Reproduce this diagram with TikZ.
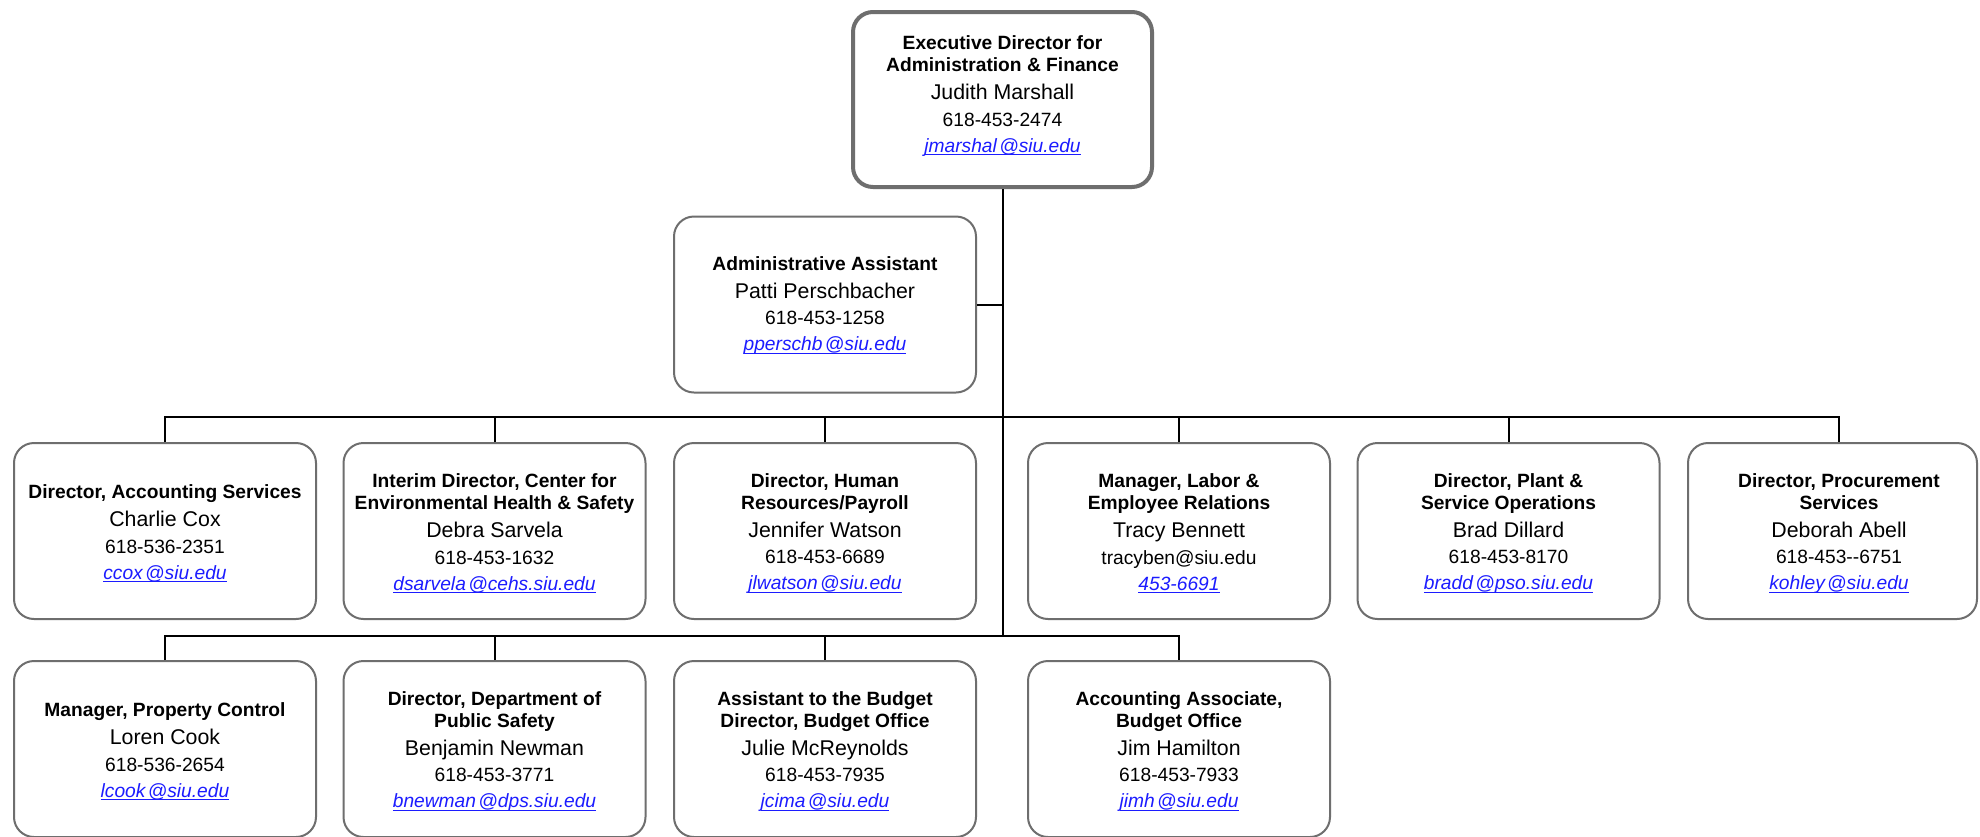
\documentclass[tikz,border=0pt]{standalone}
\usepackage{fontspec}
\setmainfont{Liberation Sans}
\usetikzlibrary{calc}
\definecolor{boxgray}{HTML}{6E6E6E}
\definecolor{linkblue}{HTML}{1C1CFF}
\newcommand\mylink[1]{{\itshape\setbox0\hbox{\color{linkblue}#1}\rlap{\color{linkblue}\rule[-2.2pt]{\wd0}{0.75pt}}\box0}}
\newcommand\myemail[2]{\mylink{#1\kern1.8pt@#2}}
\newcommand\namefs{\fontsize{16}{19}\selectfont}
\newcommand\card[5][14.25pt]{\rule{0pt}{#1}#2\\[4.7pt]{\namefs #3}\\[3.6pt]#4\\[3.1pt]#5}
\newcommand\topcardtext[4]{#1\\[4.7pt]{\namefs #2}\\[3.6pt]#3\\[3.1pt]#4\rule[-8.25pt]{0pt}{0pt}}
\begin{document}
\begin{tikzpicture}[x=0.75pt,y=-0.75pt,
  card/.style={draw=boxgray, line width=1.5pt, rounded corners=15pt, fill=white,
    minimum width=226.5pt, minimum height=132pt, align=center, inner sep=2pt,
    font=\fontsize{14.4}{16.3}\selectfont},
  topcard/.style={card, line width=3pt, minimum width=224.25pt, minimum height=131.25pt},
  plaintext/.style={card, draw=none, fill=none, minimum width=0pt, minimum height=0pt},
  conn/.style={draw=black, line width=1.5pt}]
\clip (0,0) rectangle (1980,836);
\fill[white] (0,0) rectangle (1980,836);

% top
\node[topcard] (top) at (1002.5,99.5) {\topcardtext{\textbf{Executive Director for}\\\textbf{Administration \& Finance}}{Judith Marshall}{618-453-2474}{\myemail{jmarshal}{siu.edu}}};
\node[card] (admin) at (825,304.5) {\card[12pt]{\textbf{Administrative Assistant}}{Patti Perschbacher}{618-453-1258}{\myemail{pperschb}{siu.edu}}};

% row 1
\node[card] (r1a) at (165,531) {\card{\textbf{Director, Accounting Services}}{Charlie Cox}{618-536-2351}{\myemail{ccox}{siu.edu}}};
\node[card] (r1b) at (494.5,531) {\card{\textbf{Interim Director, Center for}\\\textbf{Environmental Health \& Safety}}{Debra Sarvela}{618-453-1632}{\myemail{dsarvela}{cehs.siu.edu}}};
\node[card] (r1c) at (825,531) {\card{\textbf{Director, Human}\\\textbf{Resources/Payroll}}{Jennifer Watson}{618-453-6689}{\myemail{jlwatson}{siu.edu}}};
\node[card] (r1d) at (1179,531) {\card{\textbf{Manager, Labor \&}\\\textbf{Employee Relations}}{Tracy Bennett}{tracyben@siu.edu}{\mylink{453-6691}}};
\node[card] (r1e) at (1508.5,531) {\card{\textbf{Director, Plant \&}\\\textbf{Service Operations}}{Brad Dillard}{618-453-8170}{\myemail{bradd}{pso.siu.edu}}};
\node[card, minimum width=216.75pt] (r1f) at (1832.5,531) {};
\node[plaintext] (r1ftext) at (1839,531) {\card{\textbf{Director, Procurement}\\\textbf{Services}}{Deborah Abell}{618-453-{}-6751}{\myemail{kohley}{siu.edu}}};

% row 2
\node[card] (r2a) at (165,749) {\card{\textbf{Manager, Property Control}}{Loren Cook}{618-536-2654}{\myemail{lcook}{siu.edu}}};
\node[card] (r2b) at (494.5,749) {\card{\textbf{Director, Department of}\\\textbf{Public Safety}}{Benjamin Newman}{618-453-3771}{\myemail{bnewman}{dps.siu.edu}}};
\node[card] (r2c) at (825,749) {\card{\textbf{Assistant to the Budget}\\\textbf{Director, Budget Office}}{Julie McReynolds}{618-453-7935}{\myemail{jcima}{siu.edu}}};
\node[card] (r2d) at (1179,749) {\card{\textbf{Accounting Associate,}\\\textbf{Budget Office}}{Jim Hamilton}{618-453-7933}{\myemail{jimh}{siu.edu}}};

% connectors
\coordinate (bus1) at (1002,417);
\coordinate (bus2) at (1002,635.7);
\draw[conn] (top.south) -- (top.south |- bus2);
\draw[conn] (admin.east) -- (admin.east -| top.south);
\draw[conn] (r1a.north) -- (r1a.north |- bus1) -- (r1ftext |- bus1) -- (r1ftext |- r1f.north);
\foreach \n in {r1b,r1c,r1d,r1e} \draw[conn] (\n.north) -- (\n.north |- bus1);
\draw[conn] (r2a.north) -- (r2a.north |- bus2) -- (r2d.north |- bus2) -- (r2d.north);
\foreach \n in {r2b,r2c} \draw[conn] (\n.north) -- (\n.north |- bus2);
\end{tikzpicture}
\end{document}
